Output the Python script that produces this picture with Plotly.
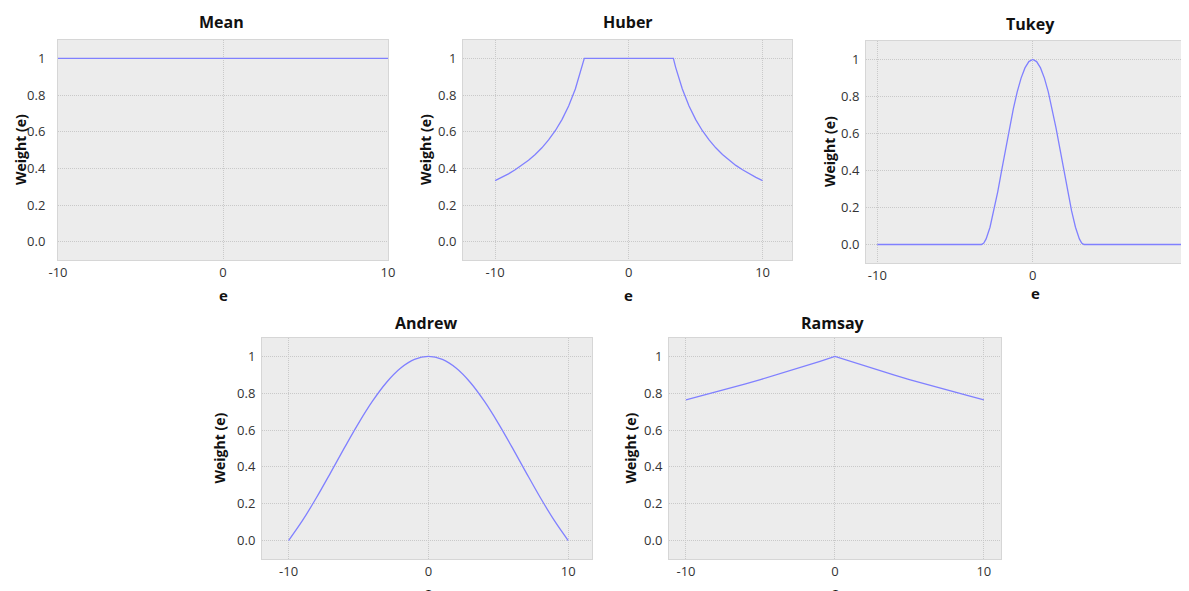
import plotly.graph_objects as go

# ---------------- data ----------------
titles = ["Mean", "Huber", "Tukey", "Andrew", "Ramsay"]

mean_e = [-10, 10]
mean_w = [1.0, 1.0]

huber_e = [-10, -9.5, -9, -8.5, -8, -7.5, -7, -6.5, -6, -5.5, -5, -4.5, -4, -3.5, -3.33,
           3.33, 3.5, 4, 4.5, 5, 5.5, 6, 6.5, 7, 7.5, 8, 8.5, 9, 9.5, 10]
huber_w = [0.333, 0.351, 0.370, 0.392, 0.416, 0.444, 0.476, 0.512, 0.555, 0.605, 0.666, 0.740, 0.833, 0.951, 1.0,
           1.0, 0.951, 0.833, 0.740, 0.666, 0.605, 0.555, 0.512, 0.476, 0.444, 0.416, 0.392, 0.370, 0.351, 0.333]

tukey_e = [-10, -3.3, -3.15, -3.0, -2.75, -2.5, -2.25, -2.0, -1.75, -1.5, -1.25, -1.0, -0.75, -0.5, -0.25, 0,
           0.25, 0.5, 0.75, 1.0, 1.25, 1.5, 1.75, 2.0, 2.25, 2.5, 2.75, 3.0, 3.15, 3.3, 10]
tukey_w = [0.0, 0.0, 0.0079, 0.0301, 0.0934, 0.1815, 0.2864, 0.4003, 0.5166, 0.6295, 0.7336, 0.8248, 0.8994, 0.9546, 0.9886, 1.0,
           0.9886, 0.9546, 0.8994, 0.8248, 0.7336, 0.6295, 0.5166, 0.4003, 0.2864, 0.1815, 0.0934, 0.0301, 0.0079, 0.0, 0.0]

andrew_e = [-10, -9, -8, -7, -6, -5, -4, -3, -2, -1, 0, 1, 2, 3, 4, 5, 6, 7, 8, 9, 10]
andrew_w = [0.0, 0.1093, 0.2339, 0.3679, 0.5045, 0.6366, 0.7568, 0.8584, 0.9355, 0.9836, 1.0,
            0.9836, 0.9355, 0.8584, 0.7568, 0.6366, 0.5045, 0.3679, 0.2339, 0.1093, 0.0]

ramsay_e = [-10, -9, -8, -7, -6, -5, -4, -3, -2, -1, 0, 1, 2, 3, 4, 5, 6, 7, 8, 9, 10]
ramsay_w = [0.7643, 0.7851, 0.8065, 0.8285, 0.8510, 0.8742, 0.8981, 0.9225, 0.9476, 0.9735, 1.0,
            0.9735, 0.9476, 0.9225, 0.8981, 0.8742, 0.8510, 0.8285, 0.8065, 0.7851, 0.7643]

x_ticks = [-10, 0, 10]
x_ticktext = ["-10", "0", "10"]
y_ticks = [0, 0.2, 0.4, 0.6, 0.8, 1]
y_ticktext = ["0.0", "0.2", "0.4", "0.6", "0.8", "1"]

# ---------------- layout geometry (screen pixels of the reference) ----------------
OFF = 8  # page body margin
W, H = 1189, 591

panels = [
    dict(box=(58, 388, 40, 260), xr=[-10, 10], shape="linear", data=(mean_e, mean_w),
         title_xy=(221, 22), ylab_x=20, ex=(223, 295), ystand=12),
    dict(box=(463, 792, 40, 260), xr=[-12.4, 12.2], shape="linear", data=(huber_e, huber_w),
         title_xy=(628, 22), ylab_x=425, ex=(629, 295), ystand=6),
    dict(box=(866, 1197, 41, 263), xr=[-10.73, 10.57], shape="linear", data=(tukey_e, tukey_w),
         title_xy=(1030, 24), ylab_x=829, ex=(1035, 293), ystand=6),
    dict(box=(262, 592, 338, 559), xr=[-11.9, 11.7], shape="spline", data=(andrew_e, andrew_w),
         title_xy=(426, 323), ylab_x=219, ex=(428, 592), ystand=6),
    dict(box=(669, 1001, 338, 559), xr=[-11.14, 11.15], shape="linear", data=(ramsay_e, ramsay_w),
         title_xy=(833, 323), ylab_x=630, ex=(835, 592), ystand=6),
]

FONT = "Open Sans"
GRID = "#c9c9c9"
fig = go.Figure()
annotations = []
layout = dict(
    width=W, height=H,
    margin=dict(l=0, r=0, t=0, b=0, pad=0, autoexpand=False),
    paper_bgcolor="white",
    plot_bgcolor="#ececec",
    showlegend=False,
    font=dict(family=FONT, size=13, color="#333333"),
)


def fx(px):
    return (px - OFF) / W


def fy(px):
    return 1 - (px - OFF) / H


for i, p in enumerate(panels):
    n = i + 1
    xa = "xaxis" if n == 1 else f"xaxis{n}"
    ya = "yaxis" if n == 1 else f"yaxis{n}"
    xref = "x" if n == 1 else f"x{n}"
    yref = "y" if n == 1 else f"y{n}"
    l, r, t, b = p["box"]
    e, w = p["data"]
    fig.add_trace(go.Scatter(
        x=e, y=w, mode="lines",
        line=dict(color="#8080ff", width=1.3, shape=p["shape"]),
        xaxis=xref, yaxis=yref, hoverinfo="skip",
    ))
    layout[xa] = dict(
        domain=[max(fx(l), 0.0), min(fx(r), 1.0)], anchor=yref, range=p["xr"],
        tickvals=x_ticks, ticktext=x_ticktext,
        showgrid=True, gridcolor=GRID, griddash="1px,1px", gridwidth=1,
        zeroline=False, showline=True, mirror=True, linecolor="#d6d6d6", linewidth=1,
        ticks="", automargin=False,
        tickfont=dict(family=FONT, size=13, color="#333333"),
        fixedrange=True,
    )
    layout[ya] = dict(
        domain=[max(fy(b), 0.0), fy(t)], anchor=xref, range=[-0.1, 1.1],
        tickvals=y_ticks, ticktext=y_ticktext,
        showgrid=True, gridcolor=GRID, griddash="1px,1px", gridwidth=1,
        zeroline=False, showline=True, mirror=True, linecolor="#d6d6d6", linewidth=1,
        ticks="outside", ticklen=p["ystand"] - 3, tickcolor="rgba(0,0,0,0)",
        automargin=False,
        tickfont=dict(family=FONT, size=13, color="#333333"),
        fixedrange=True,
    )
    tx, ty = p["title_xy"]
    annotations.append(dict(
        text="<b>%s</b>" % titles[i], x=fx(tx), y=fy(ty), xref="paper", yref="paper",
        xanchor="center", yanchor="middle", showarrow=False,
        font=dict(family=FONT, size=16, color="#111111"),
    ))
    annotations.append(dict(
        text="<b>Weight (e)</b>", x=fx(p["ylab_x"]), y=fy((t + b) / 2),
        xref="paper", yref="paper", xanchor="center", yanchor="middle",
        textangle=-90, showarrow=False,
        font=dict(family=FONT, size=14, color="#111111"),
    ))
    ex, ey = p["ex"]
    annotations.append(dict(
        text="<b>e</b>", x=fx(ex), y=fy(ey), xref="paper", yref="paper",
        xanchor="center", yanchor="middle", showarrow=False,
        font=dict(family=FONT, size=15, color="#111111"),
    ))

layout["annotations"] = annotations
fig.update_layout(**layout)
fig.write_html("out.html")
